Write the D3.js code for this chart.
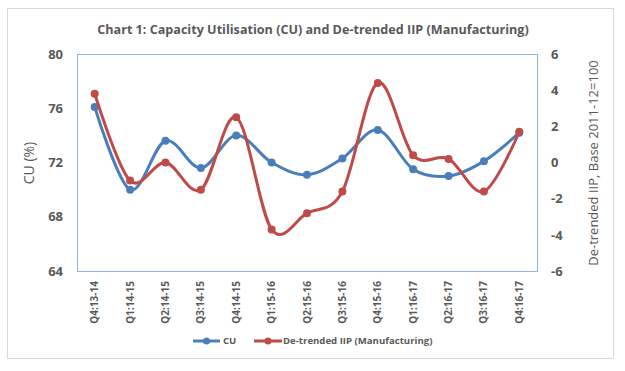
<!DOCTYPE html>
<html><head><meta charset="utf-8">
<script src="https://cdn.jsdelivr.net/npm/d3@7"></script>
<style>body{margin:0;background:#fff}svg{display:block}text{font-family:"Open Sans",sans-serif}</style>
</head><body><svg id="c" width="625" height="371"></svg>
<script>
const categories = ["Q4:13-14","Q1:14-15","Q2:14-15","Q3:14-15","Q4:14-15","Q1:15-16","Q2:15-16","Q3:15-16","Q4:15-16","Q1:16-17","Q2:16-17","Q3:16-17","Q4:16-17"];
const cuValues = [76.1,70.0,73.6,71.6,74.0,72.0,71.1,72.3,74.4,71.5,71.0,72.1,74.2];
const iipValues = [3.8,-1.0,0.0,-1.5,2.5,-3.7,-2.8,-1.6,4.4,0.4,0.2,-1.6,1.7];
const leftTicks = [64,68,72,76,80];
const rightTicks = [-6,-4,-2,0,2,4,6];
const seriesNames = ["CU","De-trended IIP (Manufacturing)"];
const colors = ["#4a7ebb","#be4b48"];

const svg = d3.select("#c");
const m = {l:77,r:537,t:54,b:271};
svg.append("rect").attr("x",7.5).attr("y",8.5).attr("width",606).attr("height",350).attr("fill","#fff").attr("stroke","#d9d9d9");

const x = d3.scaleBand().domain(categories).range([m.l,m.r]);
const yL = d3.scaleLinear().domain([64,80]).range([m.b,m.t]);
const yR = d3.scaleLinear().domain([-6,6]).range([m.b,m.t]);

svg.append("text").attr("x",313).attr("y",34).attr("text-anchor","middle").attr("font-size",12.6).attr("font-weight","bold").attr("fill","#595959")
  .text("Chart 1: Capacity Utilisation (CU) and De-trended IIP (Manufacturing)");

svg.append("rect").attr("x",m.l+0.5).attr("y",m.t+0.5).attr("width",m.r-m.l).attr("height",m.b-m.t).attr("fill","none").attr("stroke","#8eb4e3");

const gl = svg.append("g").attr("transform",`translate(${m.l},0)`).call(d3.axisLeft(yL).tickValues(leftTicks).tickSize(0).tickPadding(14));
const gr = svg.append("g").attr("transform",`translate(${m.r},0)`).call(d3.axisRight(yR).tickValues(rightTicks).tickFormat(d=>String(d)).tickSize(0).tickPadding(14));
const gx = svg.append("g").attr("transform",`translate(0,${m.b})`).call(d3.axisBottom(x).tickSize(0).tickPadding(0));
[gl,gr,gx].forEach(g=>{g.select(".domain").remove();g.selectAll("text").attr("fill","#595959").attr("font-family","Open Sans, sans-serif").attr("font-weight","bold");});
gl.selectAll("text").attr("font-size",13);
gr.selectAll("text").attr("font-size",13);
gx.selectAll("text").attr("font-size",10).attr("transform","rotate(-90)").attr("text-anchor","end").attr("x",-10).attr("y",0).attr("dy","0.35em");

svg.append("text").attr("transform","translate(29,163) rotate(-90)").attr("text-anchor","middle").attr("dy","0.35em").attr("font-size",14).attr("fill","#595959").text("CU (%)");
svg.append("text").attr("transform","translate(593,163) rotate(-90)").attr("text-anchor","middle").attr("dy","0.35em").attr("font-size",13).attr("fill","#595959").text("De-trended IIP, Base 2011-12=100");

const series = [{v:cuValues,y:yL,c:colors[0]},{v:iipValues,y:yR,c:colors[1]}];
series.forEach(s=>{
  const line = d3.line().x((d,i)=>x(categories[i])+x.bandwidth()/2).y(d=>s.y(d)).curve(d3.curveCatmullRom.alpha(0));
  svg.append("path").attr("d",line(s.v)).attr("fill","none").attr("stroke",s.c).attr("stroke-width",3).attr("stroke-linejoin","round");
  svg.append("g").selectAll("circle").data(s.v).join("circle").attr("cx",(d,i)=>x(categories[i])+x.bandwidth()/2).attr("cy",d=>s.y(d)).attr("r",4).attr("fill",s.c);
});

const leg = [{x1:193,x2:220,tx:223},{x1:254,x2:282,tx:283}];
leg.forEach((l,i)=>{
  svg.append("line").attr("x1",l.x1).attr("x2",l.x2).attr("y1",341).attr("y2",341).attr("stroke",colors[i]).attr("stroke-width",3);
  svg.append("circle").attr("cx",(l.x1+l.x2)/2).attr("cy",341).attr("r",3.5).attr("fill",colors[i]);
  svg.append("text").attr("x",l.tx).attr("y",341).attr("dy","0.35em").attr("font-size",9.6).attr("font-weight","bold").attr("fill","#595959").text(seriesNames[i]);
});
</script></body></html>
